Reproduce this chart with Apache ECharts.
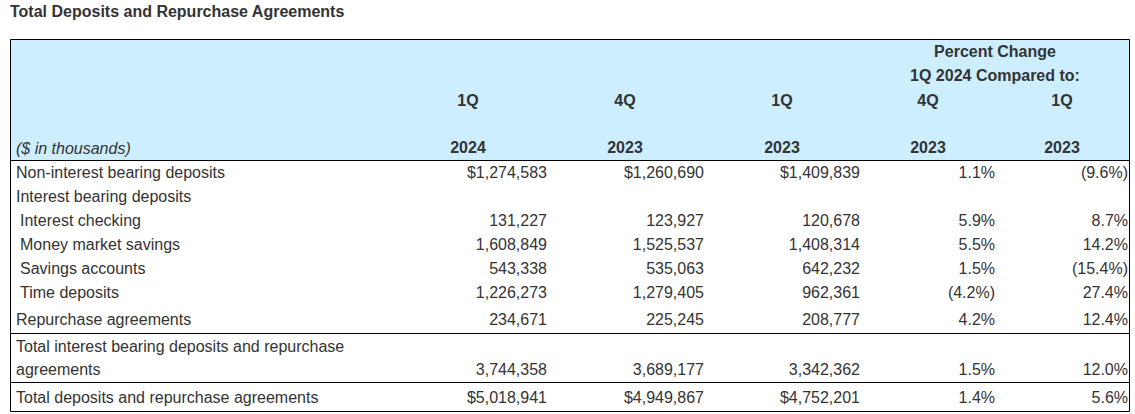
<!DOCTYPE html>
<html>
<head>
<meta charset="utf-8">
<script src="https://cdn.jsdelivr.net/npm/echarts@6/dist/echarts.min.js"></script>
<style>
html,body{margin:0;padding:0;background:#fff;}
#chart{width:1135px;height:414px;}
</style>
</head>
<body>
<div id="chart"></div>
<script>
// ---------------- DATA ----------------
const chartTitle = 'Total Deposits and Repurchase Agreements';
const unitsLabel = '($ in thousands)';
const pctHeader = ['Percent Change', '1Q 2024 Compared to:'];
const periodLabels = ['1Q', '4Q', '1Q', '4Q', '1Q'];
const yearLabels = ['2024', '2023', '2023', '2023', '2023'];
const rowLabels = [
  'Non-interest bearing deposits',
  'Interest bearing deposits',
  'Interest checking',
  'Money market savings',
  'Savings accounts',
  'Time deposits',
  'Repurchase agreements',
  'Total interest bearing deposits and repurchase agreements',
  'Total deposits and repurchase agreements'
];
const q1_2024 = [1274583, null, 131227, 1608849, 543338, 1226273, 234671, 3744358, 5018941];
const q4_2023 = [1260690, null, 123927, 1525537, 535063, 1279405, 225245, 3689177, 4949867];
const q1_2023 = [1409839, null, 120678, 1408314, 642232, 962361, 208777, 3342362, 4752201];
const pctVs4Q2023 = [1.1, null, 5.9, 5.5, 1.5, -4.2, 4.2, 1.5, 1.4];
const pctVs1Q2023 = [-9.6, null, 8.7, 14.2, -15.4, 27.4, 12.4, 12.0, 5.6];
const dollarRows = [0, 8];

// ---------------- LAYOUT / STYLE ----------------
const TXT = '#333333';
const FONT = '"Liberation Sans", Arial, sans-serif';
const FS = 16;
const HEADER_BG = '#cdeeff';
const TABLE = {left: 10.5, top: 39.5, right: 1129.5, bottom: 411.5};
const HEADER_H = 121;                       // header band height (axis units)
const ROW_H = [24, 24, 24, 24, 24, 24, 29, 49, 29];
const INDENT = [0, 0, 1, 1, 1, 1, 0, 0, 0];
const RULE_ABOVE = [0, 0, 0, 0, 0, 0, 0, 1, 1];
const LABEL_X = 16, INDENT_X = 20, LABEL_W = 338;
const VALUE_RIGHT = [547, 704, 860, 995, 1128];
const HEAD_CENTER = [468, 625, 782, 928, 1062];
const PCT_CENTER = 995;
const HEAD_Y = {pct1: 12, pct2: 36, period: 60.5, year: 108, units: 108.5};

const valueCols = [q1_2024, q4_2023, q1_2023, pctVs4Q2023, pctVs1Q2023];
const fmtMoney = (v, i) => (dollarRows.indexOf(i) >= 0 ? '$' : '') + v.toLocaleString('en-US');
const fmtPct = v => v < 0 ? '(' + Math.abs(v).toFixed(1) + '%)' : v.toFixed(1) + '%';

const rowTop = [];
ROW_H.reduce((acc, h, i) => { rowTop[i] = acc; return acc + h; }, HEADER_H);
const tableHeight = TABLE.bottom - TABLE.top;

const chart = echarts.init(document.getElementById('chart'), null, {renderer: 'svg'});

function headerRender(params, api) {
  const p0 = api.coord([TABLE.left, 0]);
  const p1 = api.coord([TABLE.right, HEADER_H]);
  const children = [
    {type: 'rect', shape: {x: p0[0], y: p0[1], width: p1[0] - p0[0], height: p1[1] - p0[1]},
     style: {fill: HEADER_BG}},
    {type: 'line', shape: {x1: p0[0], y1: p1[1], x2: p1[0], y2: p1[1]},
     style: {stroke: '#000', lineWidth: 1}}
  ];
  const boldText = (x, y, text) => {
    const c = api.coord([x, y]);
    return {type: 'text', style: {text: text, x: c[0], y: c[1], align: 'center', verticalAlign: 'middle',
      fill: TXT, font: 'bold ' + FS + 'px ' + FONT}};
  };
  children.push(boldText(PCT_CENTER, HEAD_Y.pct1, pctHeader[0]));
  children.push(boldText(PCT_CENTER, HEAD_Y.pct2, pctHeader[1]));
  periodLabels.forEach((t, k) => children.push(boldText(HEAD_CENTER[k], HEAD_Y.period, t)));
  yearLabels.forEach((t, k) => children.push(boldText(HEAD_CENTER[k], HEAD_Y.year, t)));
  const u = api.coord([LABEL_X, HEAD_Y.units]);
  children.push({type: 'text', style: {text: unitsLabel, x: u[0], y: u[1], align: 'left', verticalAlign: 'middle',
    fill: TXT, font: 'italic ' + FS + 'px ' + FONT}});
  // outer border
  const b1 = api.coord([TABLE.right, tableHeight]);
  children.push({type: 'rect', shape: {x: p0[0], y: p0[1], width: b1[0] - p0[0], height: b1[1] - p0[1]},
    style: {fill: 'none', stroke: '#000', lineWidth: 1}, z2: 10});
  return {type: 'group', children: children};
}

function rowRender(params, api) {
  const i = api.value(0);
  const top = rowTop[i], h = ROW_H[i];
  const mid = top + h / 2;
  const twoLine = h > 40;
  const children = [];
  if (RULE_ABOVE[i]) {
    const a = api.coord([TABLE.left, top]), b = api.coord([TABLE.right, top]);
    children.push({type: 'line', shape: {x1: a[0], y1: a[1], x2: b[0], y2: b[1]},
      style: {stroke: '#000', lineWidth: 1}});
  }
  const lp = api.coord([INDENT[i] ? INDENT_X : LABEL_X, mid]);
  children.push({type: 'text', style: {text: rowLabels[i], x: lp[0], y: lp[1], align: 'left',
    verticalAlign: 'middle', width: LABEL_W, overflow: 'break', lineHeight: 23,
    fill: TXT, font: FS + 'px ' + FONT}});
  valueCols.forEach((col, k) => {
    const v = col[i];
    if (v === null || v === undefined) return;
    const txt = k < 3 ? fmtMoney(v, i) : fmtPct(v);
    const c = api.coord([VALUE_RIGHT[k], twoLine ? mid + 11.5 : mid]);
    children.push({type: 'text', style: {text: txt, x: c[0], y: c[1], align: 'right', verticalAlign: 'middle',
      fill: TXT, font: FS + 'px ' + FONT}});
  });
  return {type: 'group', children: children};
}

chart.setOption({
  animation: false,
  title: {text: chartTitle, left: 10, top: 3, padding: 0,
    textStyle: {fontFamily: FONT, fontWeight: 'bold', fontSize: FS, color: TXT}},
  grid: {left: 0, right: 0, top: TABLE.top, height: tableHeight, containLabel: false},
  xAxis: {type: 'value', min: 0, max: 1135, show: false},
  yAxis: {type: 'value', min: 0, max: tableHeight, inverse: true, show: false},
  tooltip: {show: false},
  series: [
    {type: 'custom', name: 'header', renderItem: headerRender, data: [[0]], silent: true, clip: false, z: 1},
    {type: 'custom', name: 'rows', renderItem: rowRender, data: rowLabels.map((_, i) => [i]), silent: true, clip: false, z: 2}
  ]
});
</script>
</body>
</html>
